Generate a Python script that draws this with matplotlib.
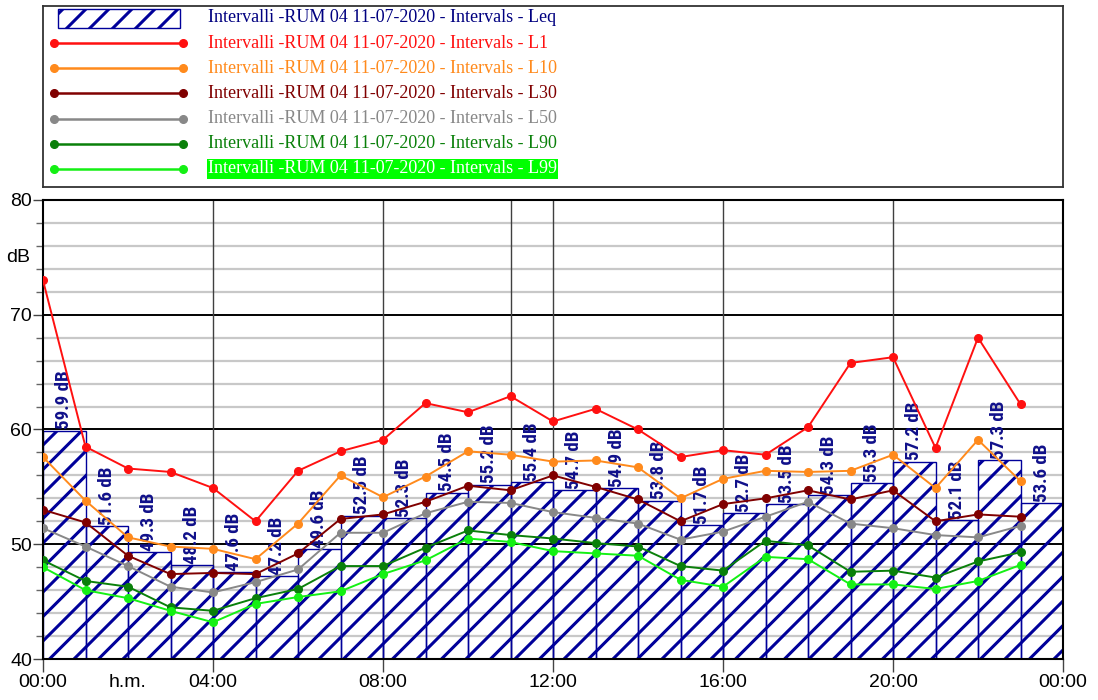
import matplotlib
matplotlib.use('Agg')
import matplotlib.pyplot as plt
from matplotlib.patches import Rectangle
from matplotlib.collections import LineCollection
from matplotlib.lines import Line2D
from matplotlib import font_manager
import matplotlib.patheffects as pe
import numpy as np

plt.rcParams['font.family'] = ['Liberation Sans', 'DejaVu Sans']

# hourly intervals 00:00 .. 23:00
hours = list(range(24))
leq = [59.9, 51.6, 49.3, 48.2, 47.6, 47.2, 49.6, 52.5, 52.3, 54.5, 55.2, 55.4,
       54.7, 54.9, 53.8, 51.7, 52.7, 53.5, 54.3, 55.3, 57.2, 52.1, 57.3, 53.6]
l1 = [73.0, 58.5, 56.6, 56.3, 54.9, 52.0, 56.4, 58.1, 59.1, 62.3, 61.5, 62.9,
      60.7, 61.8, 60.0, 57.6, 58.2, 57.8, 60.2, 65.8, 66.3, 58.4, 68.0, 62.2]
l10 = [57.6, 53.8, 50.6, 49.8, 49.6, 48.7, 51.8, 56.0, 54.1, 55.9, 58.1, 57.8,
       57.2, 57.3, 56.7, 54.0, 55.7, 56.4, 56.3, 56.4, 57.8, 54.9, 59.1, 55.5]
l30 = [53.0, 51.9, 49.0, 47.4, 47.5, 47.4, 49.2, 52.2, 52.6, 53.7, 55.1, 54.7,
       56.0, 55.0, 53.9, 52.0, 53.5, 54.0, 54.7, 53.9, 54.7, 52.0, 52.6, 52.4]
l50 = [51.4, 49.8, 48.1, 46.3, 45.8, 46.7, 47.8, 51.0, 51.0, 52.7, 53.7, 53.6,
       52.8, 52.3, 51.8, 50.4, 51.1, 52.4, 53.7, 51.8, 51.4, 50.8, 50.6, 51.6]
l90 = [48.6, 46.8, 46.3, 44.5, 44.2, 45.3, 46.1, 48.1, 48.1, 49.7, 51.2, 50.8,
       50.5, 50.1, 49.8, 48.1, 47.7, 50.3, 49.9, 47.6, 47.7, 47.1, 48.5, 49.3]
l99 = [48.0, 46.0, 45.3, 44.2, 43.2, 44.8, 45.4, 45.9, 47.4, 48.6, 50.5, 50.2,
       49.4, 49.2, 49.0, 46.9, 46.3, 48.9, 48.7, 46.5, 46.5, 46.1, 46.8, 48.2]

series = [l1, l10, l30, l50, l90, l99]
names = ['L1', 'L10', 'L30', 'L50', 'L90', 'L99']
colors = ['#ff1010', '#ff8a1c', '#800000', '#888888', '#0a800a', '#14f014']
prefix = 'Intervalli -RUM 04 11-07-2020 - Intervals - '

xticks = [0, 4, 8, 12, 16, 20, 24]
xlabels = ['00:00', '04:00', '08:00', '12:00', '16:00', '20:00', '00:00']

NAVY = '#00009a'
W, H = 1098, 700


def pick_value_font():
    # a narrow bold sans looks closest to the original bar values
    narrow = []
    for f in font_manager.fontManager.ttflist:
        nm = f.name
        cond = ('Narrow' in nm or 'Condensed' in nm
                or f.stretch in ('condensed', 'semi-condensed'))
        bold = f.weight in (600, 700, 'bold', 'semibold')
        if cond and bold and 'Mono' not in nm and 'Serif' not in nm:
            narrow.append(f)
    order = ['Liberation Sans Narrow', 'Roboto Condensed', 'Noto Sans',
             'Open Sans', 'DejaVu Sans']
    narrow.sort(key=lambda f: next((i for i, o in enumerate(order)
                                    if f.name.startswith(o)), 99))
    if narrow:
        return font_manager.FontProperties(fname=narrow[0].fname), True
    return font_manager.FontProperties(family='Liberation Sans',
                                       weight='bold'), False


def add_hatch(ax, patch, spacing=24.5, lw=2.2, color=NAVY):
    # wide diagonal hatch, drawn by hand and clipped to the patch
    bb = ax.get_position()
    wpx = bb.width * W
    hpx = bb.height * H
    segs = []
    for c in np.arange(-hpx, wpx + spacing, spacing):
        segs.append([(c / wpx, 0), ((c + hpx) / wpx, 1)])
    lc = LineCollection(segs, colors=color, linewidths=lw,
                        transform=ax.transAxes, zorder=1.5)
    ax.add_collection(lc)
    # after add_collection, otherwise the axes clip replaces it
    lc.set_clip_path(patch)
    return lc


fig = plt.figure(figsize=(W / 100, H / 100), dpi=100)

# ---- main plot
ax = fig.add_axes([43 / W, 1 - 659 / H, 1020 / W, 459 / H])
ax.set_xlim(0, 24)
ax.set_ylim(40, 80)

for y in range(42, 80, 2):
    if y % 10:
        ax.axhline(y, color='#c8c8c8', lw=1.6, zorder=0.5)
for y in [50, 60, 70]:
    ax.axhline(y, color='black', lw=1.4, zorder=0.6)
for x in [4, 8, 11, 12, 16, 20]:
    ax.axvline(x, color='#404040', lw=1.0, zorder=0.6)

bars = ax.bar(hours, leq, width=1, align='edge', facecolor='none',
              edgecolor=NAVY, linewidth=1.0, zorder=1)
for b in bars:
    add_hatch(ax, b)

vfont, is_narrow = pick_value_font()
vfont.set_size(12)
vtexts = []
for h, v in zip(hours, leq):
    t = ax.text(h + 0.5, v + 0.1, f'{v} dB', rotation=90, ha='center',
                va='bottom', fontproperties=vfont.copy(),
                color='#10108a', zorder=2)
    if not is_narrow:
        t.set_path_effects([pe.withStroke(linewidth=0.7,
                                          foreground='#10108a')])
    vtexts.append(t)
# scale so that "59.9 dB" is about 57 px long, as in the original
renderer = fig.canvas.get_renderer()
ext = vtexts[0].get_window_extent(renderer)
size = 12 * 58.0 / ext.height
for t in vtexts:
    t.set_fontsize(size)

for vals, c in zip(series, colors):
    ax.plot(hours, vals, color=c, lw=1.4, marker='o', markersize=5.5,
            zorder=3)

ax.set_xticks(xticks, xlabels)
ax.set_xticks([2], ['h.m.'], minor=True)
ax.set_yticks(range(40, 81, 10))
ax.set_yticks(range(40, 81, 2), minor=True)
ax.tick_params(axis='x', which='major', length=9, width=1, color='#444444',
               labelsize=14, pad=2)
ax.tick_params(axis='x', which='minor', length=0, labelsize=14, pad=11)
ax.tick_params(axis='y', which='major', length=7, width=1, color='#444444',
               labelsize=14, pad=1)
ax.tick_params(axis='y', which='minor', length=5, width=1, color='#666666')
for s in ax.spines.values():
    s.set_color('black')
    s.set_linewidth(1.5)
ax.annotate('dB', xy=(0, 75), xycoords=('axes fraction', 'data'),
            xytext=(-9, 0), textcoords='offset points', ha='right',
            va='center', fontsize=14)

# ---- legend box
lax = fig.add_axes([43 / W, 1 - 187 / H, 1020 / W, 181 / H])
lax.set_xlim(0, 1020)
lax.set_ylim(181, 0)
lax.set_xticks([])
lax.set_yticks([])
for s in lax.spines.values():
    s.set_color('#333333')
    s.set_linewidth(1.3)

row = 25.17
rect = Rectangle((15, 3), 122, 19, facecolor='none', edgecolor=NAVY, lw=1.0)
lax.add_patch(rect)
add_hatch(lax, rect, spacing=23)
lax.text(165, 11, prefix + 'Leq', color='#000080', va='center',
         family='Liberation Serif', fontsize=13)
for i, (n, c) in enumerate(zip(names, colors)):
    y = 37 + row * i
    lax.add_line(Line2D([11, 140], [y, y], color=c, lw=1.8, marker='o',
                        markersize=5.5))
    if n == 'L99':
        lax.text(165, y, prefix + n, color='white', va='center',
                 family='Liberation Serif', fontsize=13,
                 bbox=dict(facecolor='#00ff00', edgecolor='none', pad=1.0))
    else:
        lax.text(165, y, prefix + n, color=c, va='center',
                 family='Liberation Serif', fontsize=13)

fig.savefig('out.png', dpi=100)
